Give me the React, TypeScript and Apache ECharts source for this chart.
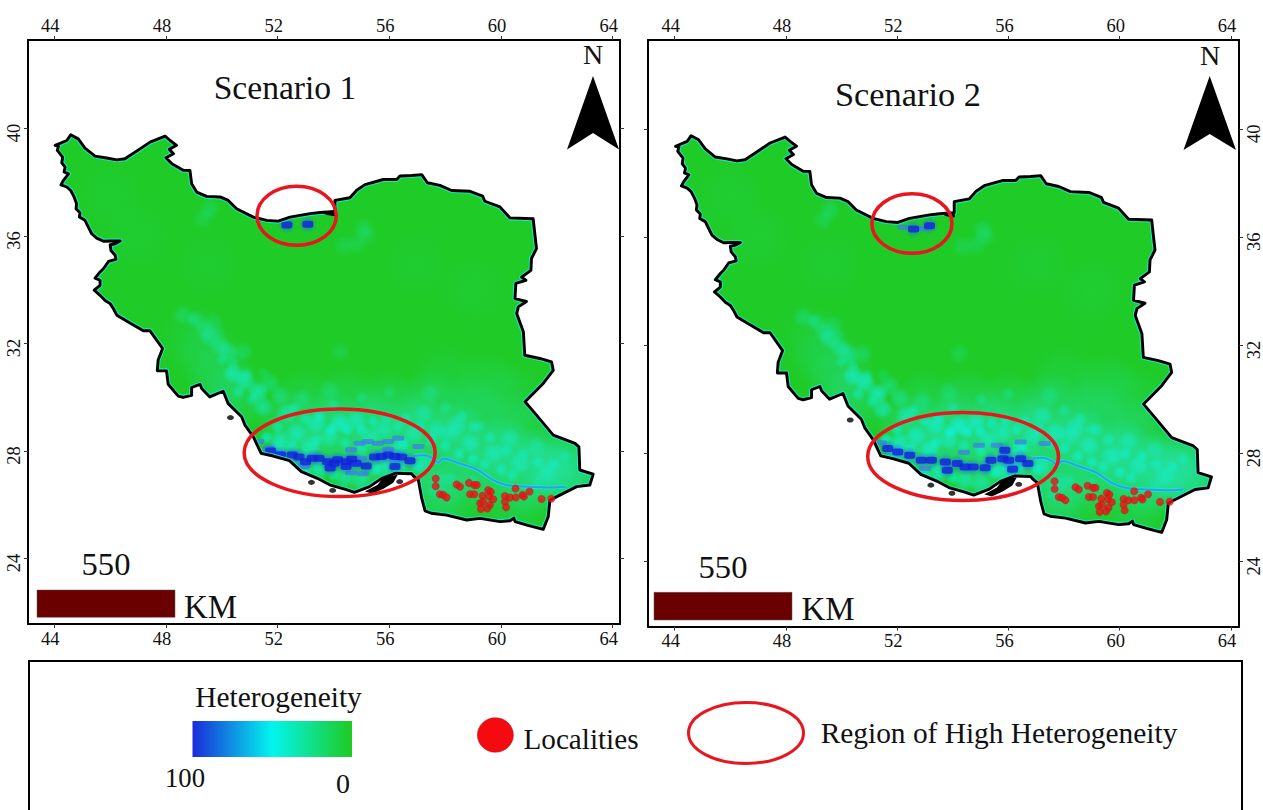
import React, { useEffect, useRef } from "react";
import * as echarts from "echarts";

const lonTicks = [44, 48, 52, 56, 60, 64];
const latTicks = [24, 28, 32, 36, 40];

const iranOutline = [
  [44.03,39.37],[44.45,39.55],[44.59,39.76],[44.86,39.61],[45.10,39.27],[45.46,38.97],[45.88,38.90],[46.24,38.83],[46.53,38.87],[47.07,39.24],[47.43,39.49],[47.97,39.71],[48.15,39.55],[48.38,39.37],[48.12,39.22],[48.27,39.06],[48.00,38.91],[48.21,38.69],[48.62,38.44],[48.86,38.44],[48.92,37.94],[49.10,37.63],[49.46,37.47],[49.94,37.45],[50.23,37.32],[50.53,37.01],[51.13,36.70],[51.61,36.58],[52.02,36.55],[52.44,36.70],[53.16,36.83],[53.52,36.87],[54.05,36.91],[54.05,37.32],[54.59,37.42],[54.83,37.70],[55.13,37.91],[55.78,38.10],[56.26,38.10],[56.38,38.23],[56.80,38.25],[57.16,38.28],[57.36,37.98],[57.81,37.88],[58.23,37.69],[58.89,37.66],[59.34,37.48],[59.42,37.29],[59.96,37.08],[60.32,36.67],[61.15,36.64],[61.21,36.08],[61.27,35.53],[61.09,35.16],[61.07,34.72],[60.74,34.47],[60.89,34.35],[60.53,34.23],[60.50,33.67],[60.91,33.56],[60.62,33.36],[60.56,33.11],[60.80,32.43],[60.85,31.56],[61.39,31.44],[61.81,31.31],[61.87,31.00],[61.51,30.51],[60.86,29.83],[61.27,29.33],[61.87,28.59],[62.65,28.28],[62.79,28.15],[62.82,27.29],[63.30,27.14],[63.18,26.73],[62.71,26.67],[62.23,26.42],[61.75,26.17],[61.69,25.55],[61.51,25.08],[60.96,25.23],[60.50,25.37],[60.46,25.50],[60.32,25.40],[59.96,25.37],[59.25,25.49],[58.77,25.43],[58.05,25.61],[57.50,25.68],[57.28,25.77],[57.16,26.23],[57.04,26.91],[56.89,27.04],[56.80,27.15],[56.23,27.17],[55.73,26.98],[55.29,26.67],[54.75,26.46],[54.43,26.57],[53.86,26.74],[53.42,26.98],[52.85,27.23],[52.42,27.64],[51.84,27.81],[51.41,27.91],[51.13,28.52],[50.83,28.96],[50.71,29.27],[50.23,29.76],[50.05,30.22],[49.57,30.01],[49.28,30.32],[49.22,30.48],[48.92,30.36],[48.92,30.07],[48.62,29.99],[48.44,30.04],[48.08,30.48],[48.02,30.98],[47.69,30.98],[47.72,31.38],[47.88,31.81],[47.43,32.47],[47.19,32.47],[46.71,32.76],[46.24,33.05],[46.12,33.29],[46.00,33.48],[45.82,33.60],[45.64,33.79],[45.43,33.98],[45.64,34.16],[45.64,34.35],[45.46,34.43],[45.64,34.66],[45.76,34.78],[45.94,35.05],[46.21,35.13],[46.18,35.28],[46.03,35.46],[46.00,35.67],[46.18,35.71],[46.36,35.81],[46.06,35.81],[45.76,35.80],[45.52,35.92],[45.34,36.08],[45.19,36.39],[45.10,36.58],[44.90,36.70],[44.92,36.86],[44.78,37.01],[44.80,37.20],[44.71,37.45],[44.59,37.69],[44.45,37.82],[44.24,37.90],[44.33,38.07],[44.51,38.31],[44.35,38.38],[44.39,38.56],[44.27,38.72],[44.30,38.93],[44.11,39.18],[44.15,39.34],
];
const qeshmIsland = [[55.20,26.50],[55.60,26.72],[55.82,27.00],[56.25,27.08],[56.12,26.84],[55.78,26.62],[55.40,26.44]];
const caspianWedge = [[53.6,36.88],[54.05,36.93],[54.05,36.75],[53.75,36.80]];
const smallIslands = [[50.31,29.24],[53.21,26.83],[53.97,26.53],[56.37,26.86]];
const waterLine = [[56.86,27.81],[57.22,27.84],[57.57,27.72],[57.75,27.56],[57.93,27.72],[58.53,27.53],[59.13,27.31],[59.72,26.91],[60.20,26.73],[60.92,26.67],[61.87,26.64],[62.29,26.67]];

// [lon, lat, heterogeneity]
const heatBroad = [
  [53,29.8,22],[54.5,29.8,28],[56,29.7,32],[57.5,29.7,35],[59,29.4,35],[60.5,28.8,35],
  [52.5,28.9,45],[54,28.9,55],[55.5,28.9,55],[57,28.8,60],[58.5,28.5,65],[60,28,70],[61.5,27.6,70],[62.4,27.4,60],
  [53,28,45],[55,27.6,50],[56.5,27.5,45],[58,27.2,45],[59.5,27.1,45],[61,26.9,50],[62.3,26.9,40],
  [50.5,30.0,28],[50,30.7,25],[49.5,31.5,18],[49,32.2,12],[60.5,30,15],[59.5,30.4,20],[58,30.7,15],
  [58.5,26.4,20],[60.5,25.9,20],[57.6,26.3,35],
  [46,37.5,8],[47,36,8],[49.5,35,7],[57,35,7],[59,34,8],
];
const heatPatches = [
  [48.62,33.05,25],[49.10,32.86,25],[49.69,32.74,20],[49.4,32.5,30],[49.57,32.24,35],[49.93,31.93,40],[50.23,31.69,40],[50.77,31.69,25],[50.41,30.88,60],[50.83,30.63,60],[51.30,30.20,65],[51.72,30.51,35],[52.08,30.07,35],[51.48,29.64,55],[52.91,29.95,25],[52.32,29.39,50],[54.23,31.69,18],[53.87,30.26,22],
  [53.39,29.02,55],[54.23,29.02,70],[54.82,29.14,55],[52.68,28.65,55],[53.87,28.52,50],[52.08,28.40,60],[53.15,28.15,60],[55.30,28.52,50],[51.96,28.03,65],[55.78,28.77,50],
  [56.86,28.65,50],[57.69,28.77,50],[58.17,28.65,45],[58.41,28.96,45],[58.89,28.28,55],[59.72,27.91,50],[60.32,28.46,40],[60.68,27.53,45],[61.27,28.15,35],[61.63,27.16,40],[57.22,29.39,40],[57.46,30.14,25],[57.22,27.53,55],[56.38,28.15,50],
  [53.5,27.3,60],[54.4,27.0,50],[55,26.9,45],[55.8,27.4,55],[56.3,27.5,55],[57.8,26.9,25],
  [49.58,37.0,22],[49.34,36.64,18],[55.07,36.27,22],[54.35,35.65,18],[54.83,35.71,18],[55.19,36.02,18],
];
const heatSpecks = [
  [52.6,29.6,40],[53.0,29.2,45],[53.5,29.3,50],[53.9,28.8,65],[54.5,28.8,65],[55.0,28.8,55],[55.4,29.1,45],[55.9,29.2,40],[56.3,28.9,45],[56.6,29.2,40],[57.1,28.9,40],[57.5,28.4,50],[58.0,28.2,50],[58.5,27.9,55],[59.0,27.7,55],[59.4,27.5,50],[60.0,27.3,50],[60.4,27.1,45],[59.0,28.9,35],[59.6,28.5,40],[60.2,28.0,45],[60.8,27.9,40],[61.3,27.6,40],[61.9,27.5,40],[62.3,27.8,30],[58.0,29.6,30],[58.6,29.3,35],[59.2,28.9,35],[56.0,30.2,22],[55.0,30.0,25],[54.0,29.7,30],[52.0,28.9,50],[51.6,28.5,65],[52.5,28.2,55],[53.4,28.4,50],[54.4,28.3,45],[55.0,28.1,50],[56.5,28.3,45],[57.0,27.4,45],[53.0,27.2,60],[54.0,27.1,55],[55.5,27.3,55],[57.6,26.5,22],[58.2,27.0,25],[59.0,26.9,22],[61.3,26.8,25],
  [49.0,32.9,20],[49.9,32.4,18],[50.0,31.4,30],[50.4,31.3,28],[50.6,30.2,40],[51.1,29.9,40],[50.9,30.9,25],[51.5,30.9,20],
];
const blueScenario1 = [
  [51.75,28.0],[52.1,27.85],[52.52,27.85],[52.76,27.77],[53.00,27.60],[53.24,27.73],[53.48,27.73],[53.79,27.60],[54.03,27.54],[53.88,27.36],[54.15,27.67],[54.45,27.60],[54.65,27.69],[54.45,27.42],[54.81,27.54],[55.17,27.44],[55.47,27.77],[55.71,27.79],[55.96,27.85],[56.20,27.79],[56.44,27.77],[56.74,27.63],[56.20,27.42],[52.33,36.41],[53.08,36.43],
];
const paleBlueScenario1 = [
  [51.31,28.35],[51.68,28.10],[52.10,27.91],[52.94,27.42],[54.63,28.04],[54.93,28.29],[55.23,28.35],[55.59,28.29],[55.96,28.35],[56.32,28.47],[55.96,28.06],[57.04,28.16],[54.99,27.73],[54.63,27.19],[55.05,27.15],
];
const blueScenario2 = [
  [51.66,28.19],[52.02,28.06],[52.45,27.94],[52.87,27.75],[53.23,27.75],[53.73,27.69],[53.80,27.38],[54.16,27.63],[54.44,27.50],[54.73,27.50],[55.16,27.47],[55.37,27.75],[55.80,27.81],[56.01,27.75],[56.44,27.81],[56.70,27.63],[56.15,27.42],[55.87,28.12],[52.59,36.31],[53.16,36.43],
];
const paleBlueScenario2 = [
  [54.94,28.31],[55.58,28.31],[56.44,28.43],[57.30,28.37],[51.40,28.40],[53.0,27.45],[54.4,28.05],[52.23,36.36],[52.94,36.33],
];
const localities = [
  [57.66,26.97],[57.66,26.69],[57.81,26.39],[57.93,26.36],[58.05,26.27],[58.41,26.75],[58.53,26.67],[58.85,26.81],[59.04,26.73],[59.13,26.73],[58.89,26.39],[59.04,26.39],[59.34,26.33],[59.54,26.54],[59.63,26.48],[59.58,26.30],[59.72,26.20],[59.25,26.05],[59.36,26.11],[59.60,25.99],[59.51,25.86],[59.28,25.84],[60.14,26.32],[60.14,26.11],[60.18,25.90],[60.32,26.27],[60.53,26.27],[60.77,26.36],[60.82,26.30],[60.52,26.60],[61.02,26.49],[61.45,26.21],[61.80,26.22],
];
// [lon, lat, semi-axis lon, semi-axis lat]
const regionsScenario1 = [[54.22,27.93,3.42,1.63],[52.68,36.75,1.42,1.10]];
const regionsScenario2 = [[54.37,27.89,3.43,1.63],[52.53,36.51,1.44,1.10]];

const SERIF = '"Liberation Serif", "Times New Roman", serif';
const GREEN = "#1fcb27";

const radial = (rgb: string) => ({
  type: "radial", x: 0.5, y: 0.5, r: 0.5,
  colorStops: [{ offset: 0, color: `rgba(${rgb},1)` }, { offset: 0.5, color: `rgba(${rgb},0.7)` }, { offset: 1, color: `rgba(${rgb},0)` }],
});

function axesFor(g: number, latOnRight: boolean, lonRange: number[], latRange: number[]) {
  const lab = { color: "#111", fontFamily: SERIF, fontSize: 18.5 };
  const tick = { show: true, length: 4, lineStyle: { color: "#333", width: 1 } };
  const line = { show: true, onZero: false, lineStyle: { color: "#000", width: 2 } };
  const x = (position: string) => ({
    type: "value", gridIndex: g, position, min: lonRange[0], max: lonRange[1], splitLine: { show: false }, axisLine: line,
    axisTick: { ...tick, customValues: lonTicks },
    axisLabel: { ...lab, margin: 5, padding: [0, 8, 0, 0], customValues: lonTicks, formatter: (v: number) => String(v), hideOverlap: false },
  });
  const y = (position: string, labelled: boolean) => ({
    type: "value", gridIndex: g, position, min: latRange[0], max: latRange[1], splitLine: { show: false }, axisLine: line,
    axisTick: { ...tick, customValues: latTicks },
    axisLabel: { ...lab, show: labelled, margin: 5, rotate: 90, padding: [0, 9, 0, 0], customValues: latTicks, formatter: (v: number) => String(v), hideOverlap: false },
  });
  return {
    x: [x("bottom"), x("top")],
    y: latOnRight ? [y("right", true), y("left", false)] : [y("left", true), y("right", false)],
  };
}

function panelSeries(i: number, lonRange: number[], latRange: number[], blue: number[][], pale: number[][], regions: number[][], heatGain: number) {
  const xAxisIndex = i * 2;
  const yAxisIndex = i * 2;
  const base = { xAxisIndex, yAxisIndex, coordinateSystem: "cartesian2d", silent: true };
  const single = (z: number, render: (coord: (p: number[]) => number[]) => any) => ({
    ...base, type: "custom", z, data: [[lonRange[0], latRange[0]]],
    renderItem: (_: any, api: any) => render((p: number[]) => api.coord(p)),
  });
  const heat = (rows: number[][]) => rows.map((r) => ({ value: r, itemStyle: { opacity: Math.min(1, (r[2] / 100) * heatGain) } }));
  const L0 = lonRange[0] + 0.06, L1 = lonRange[1] - 0.06, B0 = latRange[0] + 0.06, B1 = latRange[1] - 0.06;
  return [
    single(2, (c) => ({ type: "polygon", shape: { points: iranOutline.map(c) }, style: { fill: GREEN, stroke: "none" } })),
    { ...base, type: "scatter", z: 3, symbol: "circle", symbolSize: 72, data: heat(heatBroad), itemStyle: { color: radial("34,226,168") } },
    { ...base, type: "scatter", z: 4, symbol: "circle", symbolSize: 22, data: heat(heatPatches), itemStyle: { color: radial("20,240,220") } },
    { ...base, type: "scatter", z: 4, symbol: "circle", symbolSize: 14, data: heat(heatSpecks), itemStyle: { color: radial("10,245,230") } },
    { ...base, type: "line", z: 5, data: waterLine, showSymbol: false, smooth: 0.3, lineStyle: { color: "#25e3e0", width: 4, opacity: 0.7 } },
    { ...base, type: "line", z: 5, data: waterLine, showSymbol: false, smooth: 0.3, lineStyle: { color: "#23a6e8", width: 2 } },
    { ...base, type: "scatter", z: 6, symbol: "roundRect", symbolSize: [12, 5], data: pale, itemStyle: { color: "#3d7fe8", opacity: 0.75 } },
    { ...base, type: "scatter", z: 7, symbol: "circle", symbolSize: 18, data: blue.map((p) => [p[0], p[1]]), itemStyle: { color: radial("30,110,235") , opacity: 0.6 } },
    { ...base, type: "scatter", z: 8, symbol: "roundRect", symbolSize: [11, 7], data: blue, itemStyle: { color: "#1420dc" } },
    single(9, (c) => ({ type: "polygon", shape: { points: iranOutline.map(c) }, style: { fill: "none", stroke: "rgba(30,235,225,0.8)", lineWidth: 5, lineJoin: "round" } })),
    single(10, (c) => {
      const frame = [[L0, B0], [L1, B0], [L1, B1], [L0, B1], [L0, iranOutline[0][1]]].map(c);
      const ring = [...iranOutline, iranOutline[0]].map(c);
      return { type: "polygon", shape: { points: [...frame, ...ring, c([L0, iranOutline[0][1]])] }, style: { fill: "#fff", stroke: "none" } };
    }),
    single(11, (c) => ({ type: "polygon", shape: { points: iranOutline.map(c) }, style: { fill: "none", stroke: "#000", lineWidth: 2.9, lineJoin: "round" } })),
    single(11, (c) => ({ type: "polygon", shape: { points: qeshmIsland.map(c) }, style: { fill: "#000", stroke: "#000", lineWidth: 1.5 } })),
    single(11, (c) => ({ type: "polygon", shape: { points: caspianWedge.map(c) }, style: { fill: "#000", stroke: "#000", lineWidth: 1 } })),
    { ...base, type: "scatter", z: 11, symbol: "circle", symbolSize: [7, 5], data: smallIslands, itemStyle: { color: "#000" } },
    { ...base, type: "scatter", z: 12, symbol: "circle", symbolSize: 7.5, data: localities, itemStyle: { color: "#ee1016", borderColor: "#b01018", borderWidth: 0.3 } },
    {
      ...base, type: "custom", z: 13, data: regions,
      renderItem: (_: any, api: any) => {
        const c = api.coord([api.value(0), api.value(1)]);
        const s = api.size([api.value(2), api.value(3)]);
        return { type: "ellipse", shape: { cx: c[0], cy: c[1], rx: s[0], ry: s[1] }, style: { fill: "none", stroke: "#e8161e", lineWidth: 3.5 } };
      },
    },
  ];
}

const text = (t: string, x: number, y: number, size: number, align = "center") => ({
  type: "text", x, y, silent: true, z: 50,
  style: { text: t, font: `${size}px ${SERIF}`, fill: "#111", textAlign: align, textVerticalAlign: "middle" },
});
const arrow = (pts: number[][]) => ({ type: "polygon", silent: true, z: 50, shape: { points: pts }, style: { fill: "#000" } });
const bar = (x: number, y: number, w: number, h: number) => ({ type: "rect", silent: true, z: 50, shape: { x, y, width: w, height: h }, style: { fill: "#6a0000", stroke: "#555", lineWidth: 0.5 } });

export default function App() {
  const ref = useRef<HTMLDivElement>(null);
  useEffect(() => {
    const chart = echarts.init(ref.current!, undefined, { renderer: "svg" });
    const lon1 = [43.06, 64.26], lat1 = [21.56, 43.29];
    const lon2 = [43.04, 64.29], lat2 = [21.6, 43.3];
    const a1 = axesFor(0, false, lon1, lat1);
    const a2 = axesFor(1, true, lon2, lat2);
    chart.setOption({
      animation: false,
      backgroundColor: "#fff",
      textStyle: { fontFamily: SERIF },
      grid: [
        { left: 28, top: 40, width: 592, height: 584, show: true, backgroundColor: "#fff", borderColor: "#000", borderWidth: 0 },
        { left: 648, top: 40, width: 592, height: 586.5, show: true, backgroundColor: "#fff", borderColor: "#000", borderWidth: 0 },
      ],
      xAxis: [...a1.x, ...a2.x],
      yAxis: [...a1.y, ...a2.y],
      series: [
        ...panelSeries(0, lon1, lat1, blueScenario1, paleBlueScenario1, regionsScenario1, 1),
        ...panelSeries(1, lon2, lat2, blueScenario2, paleBlueScenario2, regionsScenario2, 1.12),
      ],
      graphic: [
        text("Scenario 1", 285, 87, 33.6),
        text("Scenario 2", 908, 94, 34.4),
        text("N", 593, 54, 28),
        text("N", 1210, 55, 28),
        arrow([[593, 76], [567, 149.5], [593, 133], [619, 149.5]]),
        arrow([[1209.7, 76], [1183.5, 150], [1209.7, 134], [1236, 150]]),
        bar(37, 590, 138, 27.3),
        bar(654, 592.3, 138, 27.7),
        text("550", 106, 564, 32.6),
        text("550", 723, 567, 32.6),
        text("KM", 210.5, 606.5, 33),
        text("KM", 828, 609, 33),
        { type: "polyline", silent: true, z: 50, shape: { points: [[29, 812], [29, 661], [1242, 661], [1242, 812]] }, style: { stroke: "#000", lineWidth: 2, fill: "none" } },
        text("Heterogeneity", 278.5, 697, 29.4),
        {
          type: "rect", silent: true, z: 50, shape: { x: 192.5, y: 721, width: 159.5, height: 36 },
          style: { fill: new echarts.graphic.LinearGradient(0, 0, 1, 0, [{ offset: 0, color: "#1a2cd8" }, { offset: 0.5, color: "#03f5ee" }, { offset: 1, color: "#1ecb22" }]) },
        },
        text("100", 185, 778, 26.7),
        text("0", 343, 783, 28),
        { type: "ellipse", silent: true, z: 50, shape: { cx: 495.4, cy: 735, rx: 18, ry: 17.3 }, style: { fill: "#f50a10", stroke: "#a01018", lineWidth: 0.5 } },
        text("Localities", 581, 739, 29.2),
        { type: "ellipse", silent: true, z: 50, shape: { cx: 746, cy: 733, rx: 57.5, ry: 30.5 }, style: { fill: "none", stroke: "#e8161e", lineWidth: 3 } },
        text("Region of High Heterogeneity", 999, 733, 29.4),
      ],
    });
    return () => chart.dispose();
  }, []);
  return <div ref={ref} style={{ position: "absolute", left: 0, top: 0, width: 1263, height: 810, overflow: "hidden" }} />;
}
